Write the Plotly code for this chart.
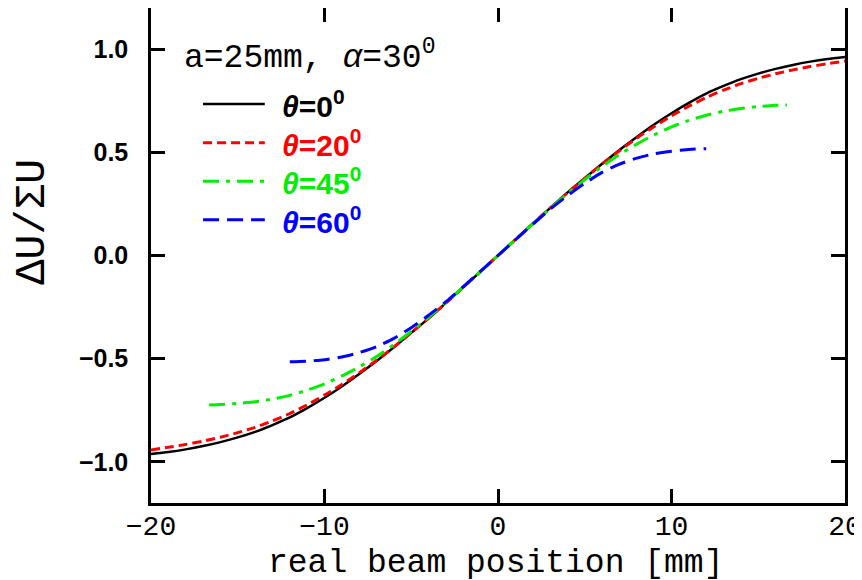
import plotly.graph_objects as go

# theta = 0 and 20 deg, full range
x_full = [-20, -19, -18, -17, -16, -15, -14, -13, -12, -11, -10, -9, -8, -7, -6, -5, -4, -3, -2, -1,
          0, 1, 2, 3, 4, 5, 6, 7, 8, 9, 10, 11, 12, 13, 14, 15, 16, 17, 18, 19, 20]
y_theta0 = [-0.963, -0.953, -0.94, -0.924, -0.905, -0.882, -0.855, -0.822, -0.785, -0.74, -0.69,
            -0.635, -0.575, -0.512, -0.445, -0.375, -0.305, -0.23, -0.154, -0.077,
            0.0, 0.077, 0.154, 0.23, 0.305, 0.375, 0.445, 0.512, 0.575, 0.635, 0.69,
            0.74, 0.785, 0.822, 0.855, 0.882, 0.905, 0.924, 0.94, 0.953, 0.963]
y_theta20 = [-0.943, -0.93, -0.916, -0.9, -0.881, -0.859, -0.833, -0.802, -0.766, -0.724, -0.677,
             -0.625, -0.569, -0.508, -0.443, -0.374, -0.304, -0.23, -0.154, -0.077,
             0.0, 0.077, 0.154, 0.23, 0.304, 0.374, 0.443, 0.508, 0.569, 0.625, 0.677,
             0.724, 0.766, 0.802, 0.833, 0.859, 0.881, 0.9, 0.916, 0.93, 0.943]

# theta = 45 deg
x_theta45 = [-16.65, -16, -15, -14, -13, -12, -11, -10, -9, -8, -7, -6, -5, -4, -3, -2, -1,
             0, 1, 2, 3, 4, 5, 6, 7, 8, 9, 10, 11, 12, 13, 14, 15, 16, 16.65]
y_theta45 = [-0.725, -0.723, -0.717, -0.709, -0.696, -0.678, -0.653, -0.622, -0.584, -0.54, -0.49,
             -0.432, -0.368, -0.3, -0.228, -0.153, -0.077,
             0.0, 0.077, 0.153, 0.228, 0.3, 0.368, 0.432, 0.49, 0.54, 0.585, 0.624,
             0.655, 0.68, 0.699, 0.713, 0.722, 0.728, 0.73]

# theta = 60 deg
x_theta60 = [-12, -11, -10, -9, -8, -7, -6, -5, -4, -3, -2, -1,
             0, 1, 2, 3, 4, 5, 6, 7, 8, 9, 10, 11, 12]
y_theta60 = [-0.515, -0.512, -0.505, -0.492, -0.471, -0.442, -0.402, -0.35, -0.29, -0.224, -0.151, -0.076,
             0.0, 0.076, 0.151, 0.224, 0.29, 0.35, 0.403, 0.443, 0.472, 0.493, 0.506, 0.514, 0.518]

names = ['0', '20', '45', '60']
colors = ['#000000', '#ff0000', '#00ee00', '#0000ff']
dashes = ['solid', '9px,5px', '16px,7px,4px,7px', '16px,8px']
widths = [2.5, 3, 3, 3]

xs = [x_full, x_full, x_theta45, x_theta60]
ys = [y_theta0, y_theta20, y_theta45, y_theta60]

mono = 'Liberation Mono'
sans = 'Liberation Sans'

# page body has an 8px margin, so the figure is shifted by 8px
fig = go.Figure(
    layout=dict(
        width=854,
        height=572,
        paper_bgcolor='#FFFFFF',
        plot_bgcolor='#FFFFFF',
        showlegend=False,
        margin=dict(l=143, r=17, t=0, b=77),
        xaxis=dict(
            range=[-20, 20],
            tickvals=[-20, -10, 0, 10, 20],
            ticks='inside', ticklen=14, tickwidth=2.5, tickcolor='#000000',
            showline=True, linecolor='#000000', linewidth=2.5, mirror='ticks',
            showgrid=False, zeroline=False, automargin=False,
            tickfont=dict(family=mono, size=28, color='#000000'),
            ticklabelstandoff=-4
        ),
        yaxis=dict(
            range=[-1.2, 1.2],
            tickvals=[-1.0, -0.5, 0.0, 0.5, 1.0],
            tickformat='.1f',
            ticks='inside', ticklen=14, tickwidth=2.5, tickcolor='#000000',
            showline=True, linecolor='#000000', linewidth=2.5, mirror='ticks',
            showgrid=False, zeroline=False, automargin=False,
            tickfont=dict(family=sans, size=25, color='#000000', weight='bold'),
            ticklabelstandoff=15
        )
    ))

for i in range(len(names)):
    fig.add_trace(go.Scatter(
        mode='lines',
        x=xs[i],
        y=ys[i],
        line=dict(color=colors[i], width=widths[i], dash=dashes[i], shape='spline', smoothing=0.6),
        name='theta=' + names[i]
    ))

# hand made legend, long line samples like the original
row_y = 0.806
for i in range(len(names)):
    fig.add_shape(type='line', xref='paper', yref='paper',
                  x0=0.075, x1=0.164, y0=row_y, y1=row_y,
                  line=dict(color=colors[i], width=widths[i], dash=dashes[i]))
    fig.add_annotation(xref='paper', yref='paper', x=0.186, y=row_y,
                       xanchor='left', yanchor='middle', showarrow=False,
                       text='<b><i>θ</i>=' + names[i] + '<sup>0</sup></b>',
                       font=dict(family=sans, size=30, color=colors[i]))
    row_y -= 0.078

fig.add_annotation(xref='paper', yref='paper', x=0.045, y=0.905,
                   xanchor='left', yanchor='middle', showarrow=False,
                   text='a=25mm, <i>α</i>=30<sup>0</sup>',
                   font=dict(family=mono, size=33, color='#000000'))

# axis titles
fig.add_annotation(xref='paper', yref='paper', x=0.496, y=-0.122,
                   xanchor='center', yanchor='middle', showarrow=False,
                   text='real beam position [mm]',
                   font=dict(family=mono, size=33, color='#000000'))
fig.add_annotation(xref='paper', yref='paper', x=-0.17, y=0.568,
                   xanchor='center', yanchor='middle', showarrow=False, textangle=-90,
                   text='ΔU/ΣU',
                   font=dict(family=mono, size=42, color='#000000'))

fig.write_html("out.html")
